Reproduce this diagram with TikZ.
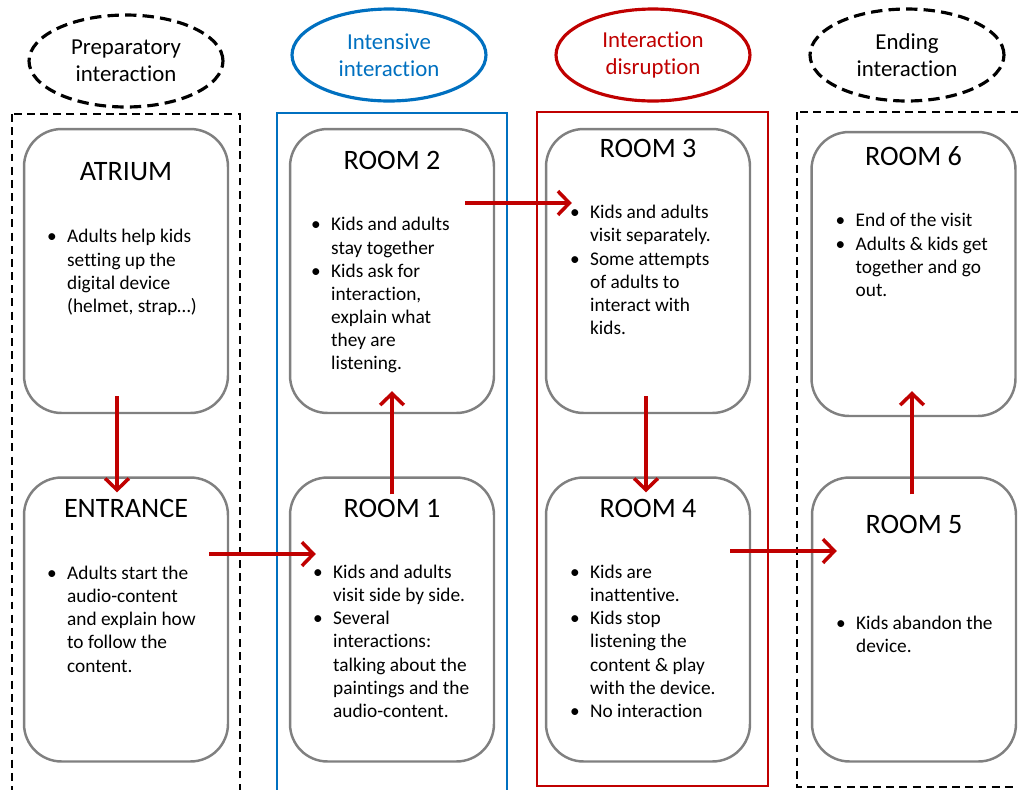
\documentclass[tikz,border=0pt]{standalone}
\usepackage{fontspec}
\setmainfont[Ligatures=NoCommon]{Carlito}
\usetikzlibrary{shapes.geometric,arrows.meta}

\definecolor{darkred}{RGB}{192,0,0}
\definecolor{officeblue}{RGB}{0,112,192}
\definecolor{boxgray}{RGB}{128,128,128}

\tikzset{
  phase/.style={ellipse, line width=1.8pt, minimum width=3.88cm, minimum height=1.84cm,
    align=center, inner sep=0pt, font=\fontsize{13}{15.5}\selectfont},
  dashline/.style={dash pattern=on 4.5pt off 3pt},
  phasedash/.style={dash pattern=on 6.5pt off 3.5pt},
  frame/.style={line width=1.6pt},
  room/.style={draw=boxgray, line width=1.4pt, rounded corners=0.75cm, fill=white,
    minimum width=4.08cm, minimum height=5.68cm},
  roomtitle/.style={anchor=base, inner sep=0pt, font=\fontsize{16}{19}\selectfont},
  notes/.style={anchor=base west, inner sep=0pt, font=\fontsize{11}{13.2}\selectfont},
  flow/.style={draw=darkred, line width=2pt, -{Straight Barb[length=6.5pt,width=13.5pt]}},
}

\newenvironment{bullets}{\begin{tabular}[t]{@{}p{11.4pt}@{}l@{}}}{\end{tabular}}

\begin{document}
\begin{tikzpicture}[x=0.02cm, y=-0.02cm]
\clip (0,0) rectangle (1018,789);

% phases
\node[phase, draw, phasedash] (prep) at (126,61) {Preparatory\\interaction};
\node[phase, draw=officeblue, text=officeblue] (intens) at (389,55) {Intensive\\interaction};
\node[phase, draw=darkred, text=darkred] (disrupt) at (653,55) {Interaction\\disruption};
\node[phase, draw, phasedash] (ending) at (907,55) {Ending\\interaction};

\draw[frame, dashline] (12,114) rectangle (240,800);
\draw[frame, officeblue] (277,113) rectangle (507,800);
\draw[frame, darkred] (537,112) rectangle (768,786);
\draw[frame, dashline] (797,112) rectangle (1030,787);

% rooms
\node[room] (atrium) at (126,271) {};
\node[room] (entrance) at (126,619.5) {};
\node[room] (room2) at (392,271) {};
\node[room] (room1) at (392,619.5) {};
\node[room] (room3) at (648,271) {};
\node[room] (room4) at (648,619.5) {};
\node[room] (room6) at (913.5,274) {};
\node[room] (room5) at (914,619.5) {};

\node[roomtitle] at ([shift={(0,53)}]atrium.north) {ATRIUM};
\node[roomtitle] at ([shift={(0,41)}]entrance.north) {ENTRANCE};
\node[roomtitle] at ([shift={(0,42)}]room2.north) {ROOM 2};
\node[roomtitle] at ([shift={(0,41)}]room1.north) {ROOM 1};
\node[roomtitle] at ([shift={(0,30)}]room3.north) {ROOM 3};
\node[roomtitle] at ([shift={(0,41)}]room4.north) {ROOM 4};
\node[roomtitle] at ([shift={(0,35)}]room6.north) {ROOM 6};
\node[roomtitle] at ([shift={(0,57)}]room5.north) {ROOM 5};

\node[notes] at ([shift={(24,115)}]atrium.north west) {\begin{bullets}
\textbullet & Adults help kids\\
 & setting up the\\
 & digital device\\
 & (helmet, strap…)
\end{bullets}};
\node[notes] at ([shift={(24,103)}]entrance.north west) {\begin{bullets}
\textbullet & Adults start the\\
 & audio-content\\
 & and explain how\\
 & to follow the\\
 & content.
\end{bullets}};
\node[notes] at ([shift={(22,103)}]room2.north west) {\begin{bullets}
\textbullet & Kids and adults\\
 & stay together\\
\textbullet & Kids ask for\\
 & interaction,\\
 & explain what\\
 & they are\\
 & listening.
\end{bullets}};
\node[notes] at ([shift={(24,102)}]room1.north west) {\begin{bullets}
\textbullet & Kids and adults\\
 & visit side by side.\\
\textbullet & Several\\
 & interactions:\\
 & talking about the\\
 & paintings and the\\
 & audio-content.
\end{bullets}};
\node[notes] at ([shift={(25,91)}]room3.north west) {\begin{bullets}
\textbullet & Kids and adults\\
 & visit separately.\\
\textbullet & Some attempts\\
 & of adults to\\
 & interact with\\
 & kids.
\end{bullets}};
\node[notes] at ([shift={(25,102)}]room4.north west) {\begin{bullets}
\textbullet & Kids are\\
 & inattentive.\\
\textbullet & Kids stop\\
 & listening the\\
 & content \& play\\
 & with the device.\\
\textbullet & No interaction
\end{bullets}};
\node[notes] at ([shift={(25,96)}]room6.north west) {\begin{bullets}
\textbullet & End of the visit\\
\textbullet & Adults \& kids get\\
 & together and go\\
 & out.
\end{bullets}};
\node[notes] at ([shift={(25,153)}]room5.north west) {\begin{bullets}
\textbullet & Kids abandon the\\
 & device.
\end{bullets}};

% path of the visit
\draw[flow] ([shift={(-9,-18)}]atrium.south) -- ([shift={(-9,16)}]entrance.north);
\draw[flow] ([shift={(-20,-65.5)}]entrance.east) -- ([shift={(27,-65.5)}]room1.west);
\draw[flow] ([shift={(0,18)}]room1.north) -- ([shift={(0,-23)}]room2.south);
\draw[flow] ([shift={(-30,-68)}]room2.east) -- ([shift={(27,-68)}]room3.west);
\draw[flow] ([shift={(-2,-18)}]room3.south) -- ([shift={(-2,16)}]room4.north);
\draw[flow] ([shift={(-21,-68.5)}]room4.east) -- ([shift={(26,-68.5)}]room5.west);
\draw[flow] ([shift={(-2,18)}]room5.north) -- ([shift={(-1.5,-26)}]room6.south);
\end{tikzpicture}
\end{document}
